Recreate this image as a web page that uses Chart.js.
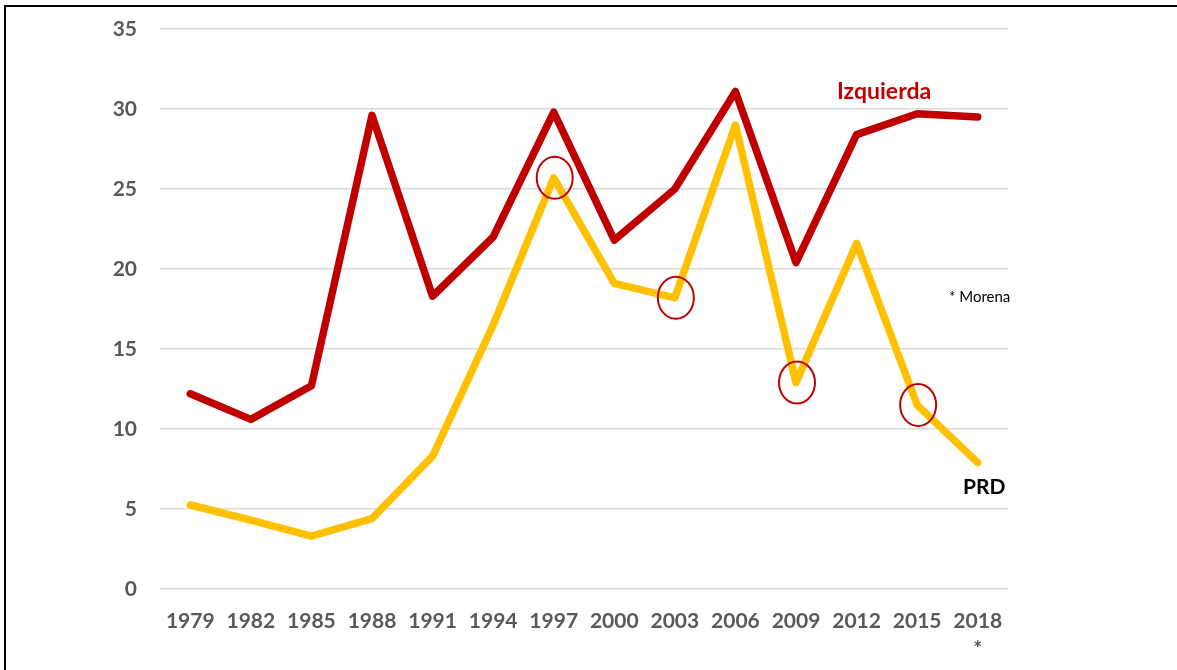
<!DOCTYPE html>
<html>
<head>
<meta charset="utf-8">
<script src="https://cdn.jsdelivr.net/npm/chart.js@4.4.0/dist/chart.umd.min.js"></script>
<style>
  html, body { margin: 0; padding: 0; background: #fff; }
  #wrap { position: relative; width: 1177px; height: 670px; }
  #frame { position: absolute; left: 4px; top: 5px; right: 0; bottom: 0;
           border-left: 2px solid #000; border-top: 2px solid #000; pointer-events: none; }
  canvas { position: absolute; left: 0; top: 0; }
</style>
</head>
<body>
<div id="wrap">
  <canvas id="chart" width="1177" height="670"></canvas>
  <div id="frame"></div>
</div>
<script>
const years = ['1979', '1982', '1985', '1988', '1991', '1994', '1997', '2000', '2003', '2006', '2009', '2012', '2015', '2018'];
const izquierda = [12.2, 10.6, 12.7, 29.6, 18.3, 22.0, 29.8, 21.8, 25.0, 31.1, 20.4, 28.4, 29.7, 29.5];
const prd = [5.25, 4.3, 3.3, 4.4, 8.3, 16.5, 25.7, 19.1, 18.2, 29.0, 12.9, 21.6, 11.5, 7.9];
// PRD points marked with a red circle
const marked = ['1997', '2003', '2009', '2015'];
const yTicks = [0, 5, 10, 15, 20, 25, 30, 35];

const font = 'Lato, "Liberation Sans", sans-serif';

// red ellipses around selected PRD points, plus the text notes
const notes = {
  id: 'notes',
  afterDatasetsDraw(chart) {
    const ctx = chart.ctx;
    const meta = chart.getDatasetMeta(1);
    ctx.save();
    ctx.strokeStyle = '#C00000';
    ctx.lineWidth = 2;
    marked.forEach(y => {
      const p = meta.data[years.indexOf(y)];
      ctx.beginPath();
      ctx.ellipse(p.x + 1, p.y, 18, 21, 0, 0, Math.PI * 2);
      ctx.stroke();
    });
    ctx.textBaseline = 'middle';
    ctx.textAlign = 'left';
    ctx.fillStyle = '#C00000';
    ctx.font = 'bold 23px ' + font;
    ctx.fillText('Izquierda', 837, 92);
    ctx.fillStyle = '#000';
    ctx.font = 'bold 21px ' + font;
    ctx.fillText('PRD', 963, 487);
    ctx.font = '15px ' + font;
    ctx.fillText('* Morena', 949, 297);
    ctx.restore();
  }
};

new Chart(document.getElementById('chart'), {
  type: 'line',
  data: {
    labels: years.map(y => y === '2018' ? ['2018', '*'] : y),
    datasets: [{
      label: 'Izquierda',
      data: izquierda,
      borderColor: '#C00000',
      borderWidth: 7.5,
      borderCapStyle: 'round',
      borderJoinStyle: 'round',
      pointRadius: 0,
      fill: false,
      tension: 0
    }, {
      label: 'PRD',
      data: prd,
      borderColor: '#FFC000',
      borderWidth: 7.5,
      borderCapStyle: 'round',
      borderJoinStyle: 'round',
      pointRadius: 0,
      fill: false,
      tension: 0
    }]
  },
  options: {
    responsive: false,
    animation: false,
    layout: { padding: { left: 0, right: 169, top: 29, bottom: 0 } },
    plugins: { legend: { display: false }, tooltip: { enabled: false } },
    scales: {
      x: {
        offset: true,
        afterFit: s => { s.height = 81; },
        grid: { display: false, drawTicks: false },
        border: { display: false },
        ticks: { color: '#595959', font: { family: font, size: 21, weight: 'bold', lineHeight: 1.3 }, padding: 19, maxRotation: 0 }
      },
      y: {
        min: 0,
        max: 35,
        afterBuildTicks: s => { s.ticks = yTicks.map(v => ({ value: v })); },
        afterFit: s => { s.width = 160; s.paddingTop = 0; s.paddingBottom = 0; },
        grid: { color: '#D9D9D9', lineWidth: 1.5, drawTicks: false },
        border: { display: false },
        ticks: { color: '#595959', font: { family: font, size: 21, weight: 'bold' }, padding: 23 }
      }
    }
  },
  plugins: [notes]
});
</script>
</body>
</html>
